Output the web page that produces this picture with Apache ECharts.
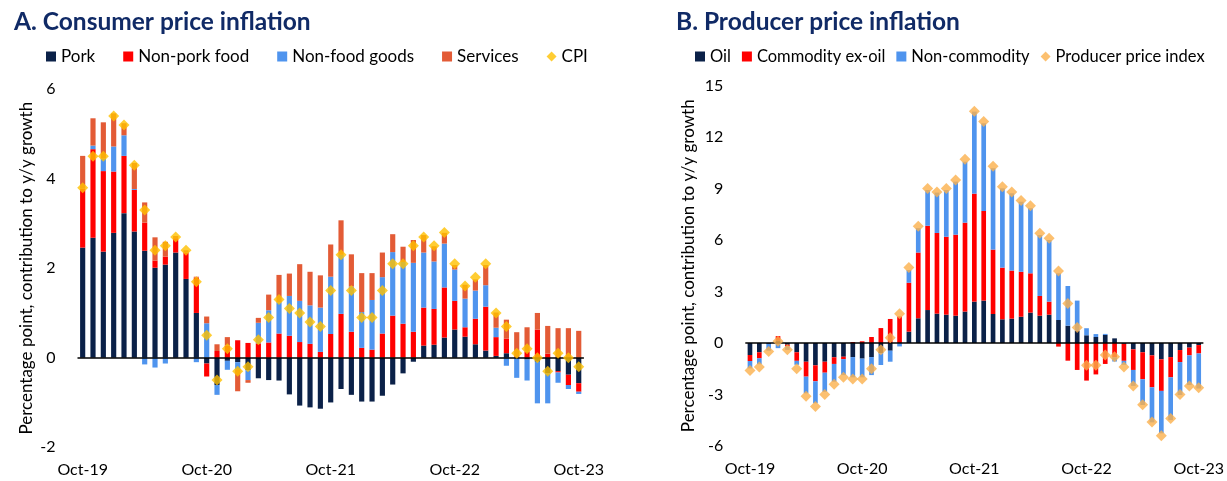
<!DOCTYPE html>
<html>
<head>
<meta charset="utf-8">
<script src="https://cdn.jsdelivr.net/npm/echarts@6/dist/echarts.min.js"></script>
<style>
  html, body { margin: 0; padding: 0; background: #fff; }
  #chart { width: 1227px; height: 481px; }
</style>
</head>
<body>
<div id="chart"></div>
<script>
// months, Oct-19 .. Oct-23
const months = [
  "Oct-19","Nov-19","Dec-19","Jan-20","Feb-20","Mar-20","Apr-20","May-20","Jun-20","Jul-20","Aug-20","Sep-20",
  "Oct-20","Nov-20","Dec-20","Jan-21","Feb-21","Mar-21","Apr-21","May-21","Jun-21","Jul-21","Aug-21","Sep-21",
  "Oct-21","Nov-21","Dec-21","Jan-22","Feb-22","Mar-22","Apr-22","May-22","Jun-22","Jul-22","Aug-22","Sep-22",
  "Oct-22","Nov-22","Dec-22","Jan-23","Feb-23","Mar-23","Apr-23","May-23","Jun-23","Jul-23","Aug-23","Sep-23",
  "Oct-23"
]

// A. consumer prices
const pork = [2.46,2.68,2.37,2.79,3.23,2.82,2.39,2.01,2.08,2.35,1.76,1.00,-0.13,-0.61,-0.07,-0.10,-0.28,-0.46,-0.50,-0.51,-0.82,-1.07,-1.11,-1.14,-1.00,-0.70,-0.83,-0.98,-0.98,-0.85,-0.60,-0.35,-0.09,0.27,0.29,0.45,0.63,0.47,0.30,0.16,0.04,0.10,0.00,-0.04,-0.09,-0.35,-0.30,-0.38,-0.57]
const nonPorkFood = [1.32,1.98,1.80,1.37,1.28,0.93,0.63,0.16,0.18,0.32,0.59,0.79,-0.29,0.15,0.27,0.39,0.33,0.32,0.34,0.54,0.49,0.35,0.31,0.13,0.53,0.98,0.58,0.22,0.18,0.54,0.94,0.76,0.58,0.85,0.80,1.12,0.64,0.21,0.57,0.98,0.42,0.33,0.00,0.13,0.63,0.09,-0.03,-0.23,-0.19]
const nonFoodGoods = [0.00,0.08,0.28,0.56,0.46,0.02,-0.15,-0.22,-0.13,0.00,0.00,-0.10,0.77,-0.22,-0.20,-0.16,-0.22,0.46,0.72,0.70,0.89,0.92,0.86,0.99,1.28,1.32,1.01,0.80,1.11,1.26,1.42,1.38,1.54,1.23,1.06,0.98,0.70,0.64,0.63,0.48,0.21,-0.18,-0.45,-0.47,-0.93,-0.67,-0.23,-0.09,-0.05]
const services = [0.73,0.61,0.81,0.74,0.27,0.58,0.45,0.52,0.33,0.05,0.05,0.02,0.15,0.15,0.19,-0.49,-0.06,0.11,0.35,0.61,0.50,0.82,0.75,0.72,0.72,0.77,0.72,0.87,0.60,0.55,0.40,0.34,0.51,0.39,0.34,0.24,0.10,0.31,0.25,0.45,0.34,0.42,0.57,0.55,0.37,0.62,0.66,0.66,0.60]
const cpi = [3.8,4.5,4.5,5.4,5.2,4.3,3.3,2.4,2.5,2.7,2.4,1.7,0.5,-0.5,0.2,-0.3,-0.2,0.4,0.9,1.3,1.1,1.0,0.8,0.7,1.5,2.3,1.5,0.9,0.9,1.5,2.1,2.1,2.5,2.7,2.5,2.8,2.1,1.6,1.8,2.1,1.0,0.7,0.1,0.2,0.0,-0.3,0.1,0.0,-0.2]

// B. producer prices
const oil = [-0.70,-0.54,-0.05,0.15,-0.10,-0.54,-1.09,-1.30,-1.09,-0.83,-0.80,-0.82,-0.91,-0.82,-0.60,-0.45,0.00,0.66,1.44,1.92,1.71,1.65,1.59,1.83,2.41,2.47,1.69,1.38,1.42,1.53,1.77,1.59,1.65,1.34,1.01,0.70,0.45,0.35,0.47,0.27,-0.05,-0.37,-0.54,-0.72,-0.95,-0.82,-0.41,-0.27,-0.12]
const commodityExOil = [-0.35,-0.35,0.00,0.25,-0.10,-0.50,-0.87,-0.93,-0.64,-0.39,-0.14,0.06,0.10,0.35,0.87,1.40,1.55,2.85,3.83,4.91,4.70,4.54,4.72,5.18,6.29,5.22,3.75,3.01,2.80,2.62,2.29,1.15,0.76,-0.21,-1.03,-1.57,-2.19,-1.83,-1.22,-0.83,-0.99,-1.20,-1.57,-1.86,-1.84,-1.18,-0.70,-0.45,-0.49]
const nonCommodity = [-0.43,-0.35,-0.40,-0.30,-0.20,-0.23,-0.97,-1.28,-1.11,-1.03,-0.93,-1.18,-1.09,-1.05,-0.68,-0.64,-0.20,0.74,1.42,2.08,2.35,2.72,3.09,3.55,4.78,5.11,4.74,4.62,4.50,4.08,3.79,3.55,3.59,2.72,2.31,1.77,0.41,0.17,0.06,-0.25,-0.23,-0.93,-1.50,-2.04,-2.47,-2.49,-1.92,-1.73,-2.04]
const ppi = [-1.6,-1.4,-0.5,0.1,-0.4,-1.5,-3.1,-3.7,-3.0,-2.4,-2.0,-2.1,-2.1,-1.5,-0.4,0.3,1.7,4.4,6.8,9.0,8.8,9.0,9.5,10.7,13.5,12.9,10.3,9.1,8.8,8.3,8.0,6.4,6.1,4.2,2.3,0.9,-1.3,-1.3,-0.7,-0.8,-1.4,-2.5,-3.6,-4.6,-5.4,-4.4,-3.0,-2.5,-2.6]

const font = "Lato, 'Open Sans', sans-serif"
const navy = "#0b2148"
const red = "#ff0000"
const blue = "#4f94ee"
const orange = "#e35b36"

const chart = echarts.init(document.getElementById("chart"))

const zeroLine = {
  silent: true,
  symbol: "none",
  label: { show: false },
  lineStyle: { color: "#000", width: 1.5, type: "solid" },
  data: [{ yAxis: 0 }]
}

const barSeries = (name, data, color, idx, extra) => Object.assign({
  name: name,
  type: "bar",
  stack: "s" + idx,
  xAxisIndex: idx,
  yAxisIndex: idx,
  barWidth: "50%",
  data: data,
  itemStyle: { color: color }
}, extra || {})

const xAxisBase = (idx) => ({
  type: "category",
  gridIndex: idx,
  data: months,
  axisLine: { show: false },
  axisTick: { show: false },
  axisLabel: { interval: 11, color: "#000", fontSize: 16, fontFamily: font, margin: 15 }
})

const yAxisBase = (idx, min, max, interval, gap) => ({
  type: "value",
  gridIndex: idx,
  min: min,
  max: max,
  interval: interval,
  axisLine: { show: false },
  axisTick: { show: false },
  splitLine: { show: false },
  axisLabel: { color: "#000", fontSize: 16, fontFamily: font, margin: 22 },
  name: "Percentage point, contribution to y/y growth",
  nameLocation: "middle",
  nameRotate: 90,
  nameGap: gap,
  nameTextStyle: { color: "#000", fontSize: 17, fontFamily: font }
})

const option = {
  animation: false,
  textStyle: { fontFamily: font },
  title: [
    {
      text: "A. Consumer price inflation",
      left: 9,
      top: 5,
      textStyle: { color: "#102a66", fontSize: 24.5, fontWeight: "bold", fontFamily: font }
    },
    {
      text: "B. Producer price inflation",
      left: 671,
      top: 5,
      textStyle: { color: "#102a66", fontSize: 24.5, fontWeight: "bold", fontFamily: font }
    }
  ],
  legend: [
    {
      left: 46,
      top: 48,
      padding: 0,
      itemGap: 28,
      itemWidth: 10,
      itemHeight: 10,
      textStyle: { color: "#000", fontSize: 17, fontFamily: font },
      data: [
        { name: "Pork", icon: "rect" },
        { name: "Non-pork food", icon: "rect" },
        { name: "Non-food goods", icon: "rect" },
        { name: "Services", icon: "rect" },
        { name: "CPI", icon: "diamond" }
      ]
    },
    {
      left: 695,
      top: 48,
      width: 540,
      padding: 0,
      itemGap: 11,
      itemWidth: 10,
      itemHeight: 10,
      textStyle: { color: "#000", fontSize: 16.5, fontFamily: font },
      data: [
        { name: "Oil", icon: "rect" },
        { name: "Commodity ex-oil", icon: "rect" },
        { name: "Non-commodity", icon: "rect" },
        { name: "Producer price index", icon: "diamond" }
      ]
    }
  ],
  grid: [
    { left: 77.5, top: 89.2, width: 506.4, height: 358 },
    { left: 745.3, top: 85.5, width: 459.1, height: 360.5 }
  ],
  xAxis: [xAxisBase(0), xAxisBase(1)],
  yAxis: [yAxisBase(0, -2, 6, 2, 42), yAxisBase(1, -6, 15, 3, 48)],
  series: [
    barSeries("Pork", pork, navy, 0),
    barSeries("Non-pork food", nonPorkFood, red, 0),
    barSeries("Non-food goods", nonFoodGoods, blue, 0),
    barSeries("Services", services, orange, 0, { markLine: zeroLine }),
    {
      name: "CPI",
      type: "scatter",
      xAxisIndex: 0,
      yAxisIndex: 0,
      symbol: "diamond",
      symbolSize: 11,
      z: 5,
      itemStyle: { color: "#ffc000" },
      data: cpi
    },
    barSeries("Oil", oil, navy, 1),
    barSeries("Commodity ex-oil", commodityExOil, red, 1),
    barSeries("Non-commodity", nonCommodity, blue, 1, { markLine: zeroLine }),
    {
      name: "Producer price index",
      type: "scatter",
      xAxisIndex: 1,
      yAxisIndex: 1,
      symbol: "diamond",
      symbolSize: 11,
      z: 5,
      itemStyle: { color: "#fbb04c" },
      data: ppi
    }
  ]
}

chart.setOption(option)
</script>
</body>
</html>
